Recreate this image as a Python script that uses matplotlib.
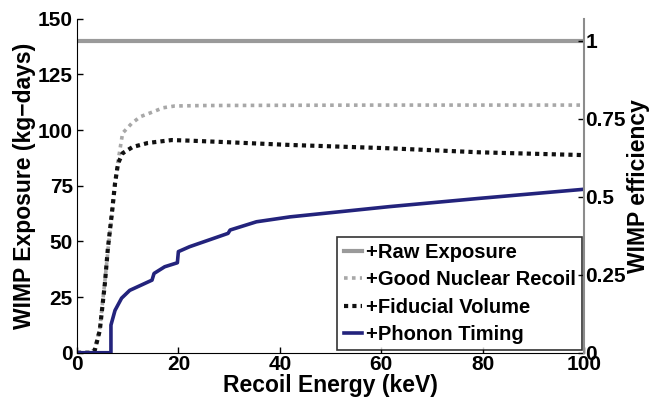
import matplotlib.pyplot as plt

plt.rcParams['font.family'] = ['Liberation Sans', 'DejaVu Sans']
plt.rcParams['font.weight'] = 'bold'

# Значения (кэВ, кг*сут)
raw_e = [0, 100]
raw_exp = [140.2, 140.2]

nr_e = [0, 2.5, 3.5, 4.5, 5.5, 6.2, 7.0, 7.6, 8.1, 9.0, 10.8, 12.5, 14.8, 17.0, 19.3, 25, 40, 60, 80, 100]
nr_exp = [0, 0, 1.5, 11, 32, 48, 64, 77, 86, 98.6, 103, 106, 108, 110, 110.8, 111, 111.1, 111.2, 111.2, 111.2]

fid_e = [0, 2.5, 3.5, 4.5, 5.5, 6.1, 6.9, 7.5, 8.1, 9.0, 11, 14, 18.7, 22.6, 30, 42, 61.6, 79.3, 99, 100]
fid_exp = [0, 0, 1, 10, 31, 47, 63, 76, 85, 89.6, 92.4, 94.2, 95.5, 95.2, 94.5, 93.3, 91.8, 90, 88.8, 88.7]

ph_e = [0, 6.7, 6.7, 7.5, 8.8, 10.4, 12.7, 14.8, 15.2, 17.3, 19.8, 20.0, 22.2, 29.8, 30.2, 35.4, 42, 51.8, 61.6, 79.3, 100]
ph_exp = [0, 0, 12.4, 19, 24.5, 28, 30.4, 32.6, 35.6, 38.6, 40.4, 45.4, 47.6, 53.6, 55.1, 58.8, 61, 63.3, 65.6, 69.3, 73.4]

fig = plt.figure(figsize=(6.67, 4.01), dpi=100)
ax = fig.add_axes([0.1154, 0.1204, 0.7602, 0.833])

ax.plot(raw_e, raw_exp, color='#9a9a9a', lw=3, label='+Raw Exposure')
ax.plot(nr_e, nr_exp, color='#a8a8a8', lw=2.6, ls=(0, (1, 1.2)), label='+Good Nuclear Recoil')
ax.plot(fid_e, fid_exp, color='#111111', lw=3, ls=(0, (1, 1.0)), label='+Fiducial Volume')
ax.plot(ph_e, ph_exp, color='#23237c', lw=2.6, label='+Phonon Timing')

ax.set_xlim(0, 100)
ax.set_ylim(0, 150)
ax.set_xticks([0, 20, 40, 60, 80, 100])
ax.set_yticks([0, 25, 50, 75, 100, 125, 150])
ax.tick_params(direction='in', labelsize=15, length=4, width=1)
ax.tick_params(axis='x', pad=2)
ax.tick_params(axis='y', pad=3)
ax.spines['top'].set_visible(False)
ax.spines['right'].set_visible(False)
ax.set_xlabel('Recoil Energy (keV)', fontsize=16.5, fontweight='bold', labelpad=0)
ax.set_ylabel('WIMP Exposure (kg\u2212days)', fontsize=16.5, fontweight='bold', labelpad=1)

ax2 = ax.twinx()
ax2.set_ylim(0, 150 / 140.2)
ax2.set_yticks([0, 0.25, 0.5, 0.75, 1])
ax2.set_yticklabels(['0', '0.25', '0.5', '0.75', '1'])
ax2.tick_params(direction='in', labelsize=15, length=4, width=1, pad=1)
for s in ['top', 'left', 'bottom']:
    ax2.spines[s].set_visible(False)
ax2.spines['right'].set_color('#8c8c8c')
ax2.spines['right'].set_linewidth(1.5)
ax2.set_ylabel('WIMP efficiency', fontsize=16.5, fontweight='bold', labelpad=1)

leg = ax.legend(loc='lower right', fontsize=14.5, frameon=True, fancybox=False,
                edgecolor='black', handlelength=0.9, handletextpad=0.2,
                borderaxespad=0.12, labelspacing=0.42, borderpad=0.3)
leg.get_frame().set_linewidth(1.2)

fig.savefig('out.png', dpi=100)
